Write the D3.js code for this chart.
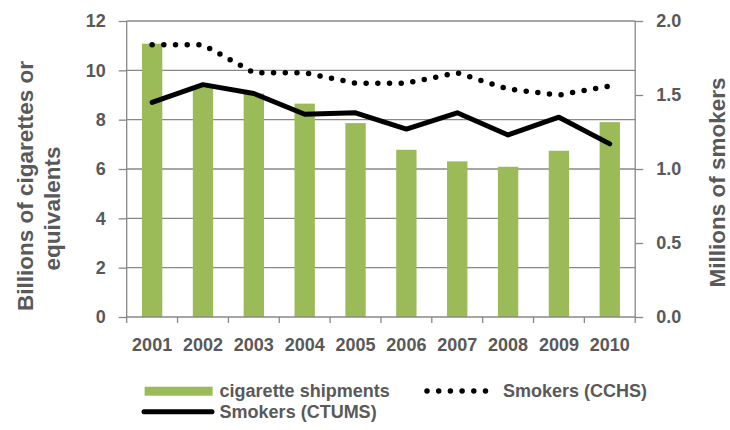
<!DOCTYPE html>
<html>
<head>
<meta charset="utf-8">
<script src="https://cdn.jsdelivr.net/npm/d3@7"></script>
<style>
  html, body { margin: 0; padding: 0; background: #fff; }
  svg { display: block; font-family: "Liberation Sans", Arial, sans-serif; }
</style>
</head>
<body>
<svg id="chart" width="730" height="430"></svg>
<script>
const years = ["2001","2002","2003","2004","2005","2006","2007","2008","2009","2010"];
const shipments = [11.08, 9.32, 9.06, 8.65, 7.86, 6.78, 6.31, 6.09, 6.74, 7.90];
const smokersCCHS = [1.84, 1.84, 1.65, 1.65, 1.58, 1.58, 1.65, 1.54, 1.50, 1.56];
const smokersCTUMS = [1.45, 1.57, 1.51, 1.37, 1.38, 1.27, 1.38, 1.23, 1.35, 1.17];
const leftTicks = [0, 2, 4, 6, 8, 10, 12];
const rightTicks = [0, 0.5, 1.0, 1.5, 2.0];
const leftTitle = ["Billions of cigarettes or", "equivalents"];
const rightTitle = "Millions of smokers";
const legendLabels = ["cigarette shipments", "Smokers (CCHS)", "Smokers (CTUMS)"];

(function () {
const svg = d3.select("#chart");
const textColor = "#595959";
const gridColor = "#888888";
const green = "#9BBB59";

const pLeft = 126.7, pRight = 635.2, pTop = 21, pBottom = 317;

const x = d3.scaleBand().domain(years).range([pLeft, pRight]).paddingInner(0.6).paddingOuter(0.3);
const yL = d3.scaleLinear().domain([0, 12]).range([pBottom, pTop]);
const yR = d3.scaleLinear().domain([0, 2]).range([pBottom, pTop]);
const cx = d => x(d) + x.bandwidth() / 2;

svg.append("rect").attr("width", 730).attr("height", 430).attr("fill", "#fff");

// gridlines
svg.append("g").selectAll("line").data(leftTicks.filter(t => t > 0)).join("line")
  .attr("x1", pLeft).attr("x2", pRight)
  .attr("y1", d => yL(d)).attr("y2", d => yL(d))
  .attr("stroke", gridColor).attr("stroke-width", 1.3);

// bars
svg.append("g").selectAll("rect").data(years).join("rect")
  .attr("x", d => x(d)).attr("width", x.bandwidth())
  .attr("y", (d, i) => yL(shipments[i]))
  .attr("height", (d, i) => yL(0) - yL(shipments[i]))
  .attr("fill", green);

const ff = "Liberation Sans, Arial, sans-serif";

// left axis
const gL = svg.append("g").attr("transform", `translate(${pLeft},0)`)
  .call(d3.axisLeft(yL).tickValues(leftTicks).tickFormat(d3.format("d")).tickSize(8).tickPadding(13));
gL.select(".domain").attr("stroke", gridColor).attr("stroke-width", 1.3).attr("d", `M0,${pTop}V${pBottom}`);
gL.selectAll(".tick line").attr("stroke", gridColor).attr("stroke-width", 1.3);
gL.selectAll(".tick text").attr("fill", textColor).attr("font-size", 18).attr("font-weight", "bold").attr("font-family", ff);

// right axis
const gR = svg.append("g").attr("transform", `translate(${pRight},0)`)
  .call(d3.axisRight(yR).tickValues(rightTicks).tickFormat(d3.format(".1f")).tickSize(8).tickPadding(13));
gR.select(".domain").attr("stroke", gridColor).attr("stroke-width", 1.3).attr("d", `M0,${pTop}V${pBottom}`);
gR.selectAll(".tick line").attr("stroke", gridColor).attr("stroke-width", 1.3);
gR.selectAll(".tick text").attr("fill", textColor).attr("font-size", 18).attr("font-weight", "bold").attr("font-family", ff);

// bottom axis
const gB = svg.append("g").attr("transform", `translate(0,${pBottom})`)
  .call(d3.axisBottom(x).tickSize(0).tickPadding(21));
gB.select(".domain").remove();
gB.selectAll(".tick text").attr("fill", textColor).attr("font-size", 18).attr("font-weight", "bold").attr("font-family", ff);
const edges = years.map(d => x(d) - x.step() * x.paddingInner() / 2).concat([pRight]);
gB.append("line").attr("x1", pLeft).attr("x2", pRight).attr("y1", 0).attr("y2", 0)
  .attr("stroke", gridColor).attr("stroke-width", 1.3);
gB.selectAll(".edge").data(edges).join("line").attr("class", "edge")
  .attr("x1", d => d).attr("x2", d => d).attr("y1", 0).attr("y2", 6)
  .attr("stroke", gridColor).attr("stroke-width", 1.3);

// lines
const lineR = d3.line().x(d => cx(d[0])).y(d => yR(d[1]));
svg.append("path")
  .attr("d", lineR(years.map((d, i) => [d, smokersCTUMS[i]])))
  .attr("fill", "none").attr("stroke", "#000").attr("stroke-width", 5)
  .attr("stroke-linejoin", "round").attr("stroke-linecap", "round");
svg.append("path")
  .attr("d", lineR(years.map((d, i) => [d, smokersCCHS[i]])))
  .attr("fill", "none").attr("stroke", "#000").attr("stroke-width", 5.5)
  .attr("stroke-dasharray", "0 11.7").attr("stroke-linecap", "round");

// axis titles
const tSize = 22.5;
svg.append("text").attr("transform", "translate(33,186) rotate(-90)")
  .attr("text-anchor", "middle").attr("fill", textColor).attr("font-family", ff)
  .attr("font-size", tSize).attr("font-weight", "bold").text(leftTitle[0]);
svg.append("text").attr("transform", "translate(60,208.5) rotate(-90)")
  .attr("text-anchor", "middle").attr("fill", textColor).attr("font-family", ff)
  .attr("font-size", tSize).attr("font-weight", "bold").text(leftTitle[1]);
svg.append("text").attr("transform", "translate(725,182.5) rotate(-90)")
  .attr("text-anchor", "middle").attr("fill", textColor).attr("font-family", ff)
  .attr("font-size", tSize).attr("font-weight", "bold").text(rightTitle);

// legend
const lg = svg.append("g").attr("font-size", 18).attr("font-weight", "bold").attr("fill", textColor).attr("font-family", ff);
lg.append("rect").attr("x", 144.6).attr("y", 386.7).attr("width", 68).attr("height", 9).attr("fill", green);
lg.append("text").attr("x", 219.6).attr("y", 397).text(legendLabels[0]);
lg.append("line").attr("x1", 427).attr("x2", 427 + 11.7 * 5).attr("y1", 391).attr("y2", 391)
  .attr("stroke", "#000").attr("stroke-width", 5.5).attr("stroke-dasharray", "0 11.7").attr("stroke-linecap", "round");
lg.append("text").attr("x", 502.9).attr("y", 397).text(legendLabels[1]);
lg.append("line").attr("x1", 144).attr("x2", 212).attr("y1", 411.7).attr("y2", 411.7)
  .attr("stroke", "#000").attr("stroke-width", 5).attr("stroke-linecap", "round");
lg.append("text").attr("x", 219.6).attr("y", 418).text(legendLabels[2]);
})();
</script>
</body>
</html>
